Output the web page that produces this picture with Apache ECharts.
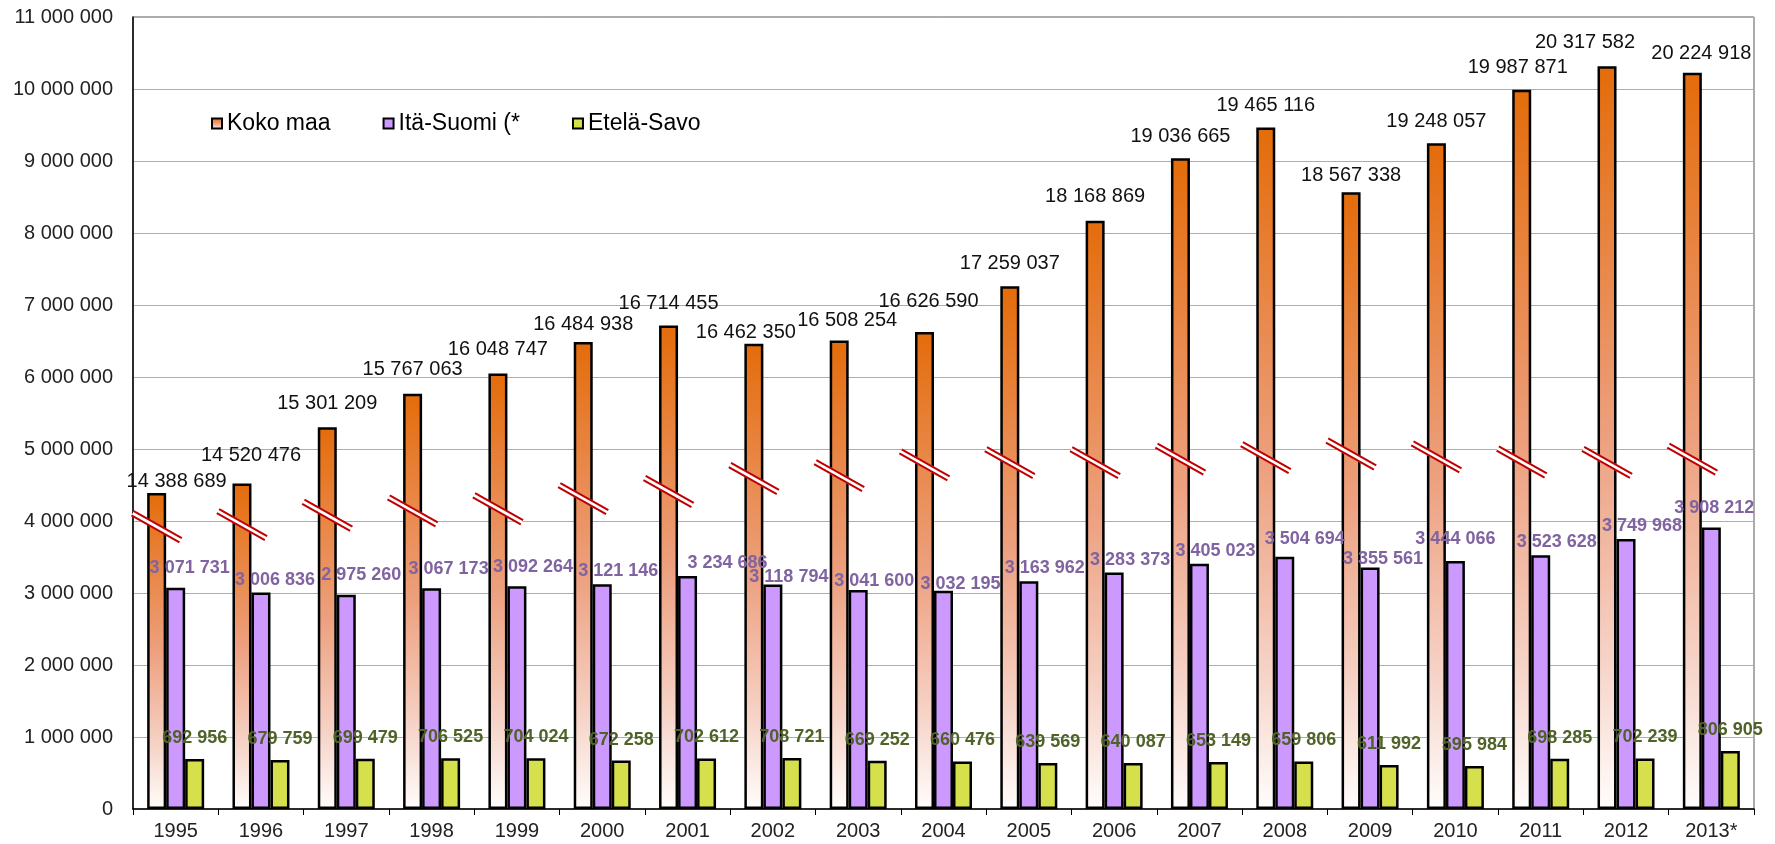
<!DOCTYPE html>
<html><head><meta charset="utf-8">
<script src="https://cdn.jsdelivr.net/npm/echarts@6/dist/echarts.min.js"></script>
<style>html,body{margin:0;padding:0;background:#fff}#c{width:1775px;height:844px}</style>
</head><body><div id="c"></div>
<script>
// ---- data ----
const categories = ['1995','1996','1997','1998','1999','2000','2001','2002','2003','2004','2005','2006','2007','2008','2009','2010','2011','2012','2013*'];
const kokoMaa = [14388689,14520476,15301209,15767063,16048747,16484938,16714455,16462350,16508254,16626590,17259037,18168869,19036665,19465116,18567338,19248057,19987871,20317582,20224918];
const itaSuomi = [3071731,3006836,2975260,3067173,3092264,3121146,3234686,3118794,3041600,3032195,3163962,3283373,3405023,3504694,3355561,3444066,3523628,3749968,3908212];
const etelaSavo = [692956,679759,699479,706525,704024,672258,702612,708721,669252,660476,639569,640087,653149,659806,611992,595984,698285,702239,806905];
const seriesNames = ['Koko maa','Itä-Suomi (*','Etelä-Savo'];
// Koko maa is drawn on a broken axis: the axis break removes this amount
const axisBreak = 10000000;
// axis value (broken scale) where each break mark sits on the Koko maa bar
const breakMarks = [3920000,3950000,4080000,4140000,4170000,4310000,4410000,4590000,4630000,4780000,4810000,4810000,4860000,4880000,4930000,4890000,4820000,4815000,4860000];
const yMin = 0, yMax = 11000000, yInterval = 1000000;

// ---- label nudges (style, px) ----
const kokoNudge = {0:[20,10],1:[9,-6],2:[0,-2],3:[0,-2],4:[0,-2],5:[0,4],7:[-8,11],8:[8,2],9:[4,-8],10:[0,-1],11:[0,-2],14:[0,5],16:[-4,0],17:[-22,-2],18:[9,3]};
const itaNudge = {0:[-2,-7],1:[-2,1],2:[-1,-7],3:[1,-6],4:[0,-6],6:[24,0],7:[0,6],8:[0,4],9:[1,6],12:[0,0],13:[4,-5],14:[-3,5],15:[-16,-9],18:[-13,-7]};

function fmt(v){ return String(Math.round(v)).replace(/\B(?=(\d{3})+(?!\d))/g,' '); }

const chart = echarts.init(document.getElementById('c'));
const barBorder = {borderColor:'#000', borderWidth:2.5};
const orangeGrad = new echarts.graphic.LinearGradient(0,0,0,1,[
  {offset:0,color:'#E46C0A'},
  {offset:0.5,color:'#EDA07F'},
  {offset:0.8,color:'#F6D3C7'},
  {offset:1,color:'#FFFDFC'}
]);

chart.setOption({
  animation:false,
  backgroundColor:'#fff',
  textStyle:{fontFamily:'Liberation Sans, Arial, sans-serif'},
  grid:{left:133,right:21,top:17,bottom:35,show:true,borderColor:'#595959',borderWidth:1,backgroundColor:'transparent'},
  legend:{
    data:seriesNames, left:206, top:107, itemWidth:10, itemHeight:10, itemGap:52,
    icon:'rect',
    textStyle:{fontSize:23,color:'#000',fontFamily:'Liberation Sans, Arial, sans-serif'}
  },
  xAxis:{
    type:'category', data:categories,
    axisLine:{lineStyle:{color:'#000',width:1.5}},
    axisTick:{show:true,length:6,lineStyle:{color:'#000'}},
    axisLabel:{fontSize:20,color:'#222',margin:12,interval:0}
  },
  yAxis:{
    type:'value', min:yMin, max:yMax, interval:yInterval,
    axisLine:{show:true,lineStyle:{color:'#000',width:1.5}},
    axisTick:{show:false},
    splitLine:{lineStyle:{color:'#ADADAD',width:1.2}},
    axisLabel:{fontSize:20,color:'#222',margin:20,formatter:v=>fmt(v)}
  },
  series:[
    {
      name:seriesNames[0], type:'bar', barWidth:19, barGap:'0%',
      itemStyle:Object.assign({color:orangeGrad},barBorder),
      data:kokoMaa.map((v,i)=>({value:v-axisBreak,label:{offset:kokoNudge[i]||[0,0]}})),
      label:{show:true,position:'top',distance:12,fontSize:20,color:'#111',
        formatter:p=>fmt(kokoMaa[p.dataIndex])}
    },
    {
      name:seriesNames[1], type:'bar', barWidth:19, barGap:'0%',
      itemStyle:Object.assign({color:'#CC99FF'},barBorder),
      data:itaSuomi.map((v,i)=>{const n=itaNudge[i]||[0,0];return {value:v,label:{offset:[16+n[0],n[1]]}};}),
      label:{show:true,position:'top',distance:4,fontSize:18,fontWeight:'bold',color:'#8064A2',
        formatter:p=>fmt(p.value)}
    },
    {
      name:seriesNames[2], type:'bar', barWidth:19, barGap:'0%',
      itemStyle:Object.assign({color:'#D6E04D'},barBorder),
      data:etelaSavo,
      label:{show:true,position:'top',distance:12,fontSize:18,fontWeight:'bold',color:'#4F6228',
        formatter:p=>fmt(p.value)}
    },
    {
      name:'break', type:'custom', clip:false, z:5, silent:true,
      encode:{x:0,y:1},
      data:breakMarks.map((v,i)=>[i,v]),
      renderItem:function(params,api){
        const p = api.coord([api.value(0),api.value(1)]);
        const cx = p[0]-19, cy = p[1];
        const hx = 24, hy = 13.5, nx = -1.15, ny = 2.05;
        return {type:'group',children:[
          {type:'line',shape:{x1:cx-hx,y1:cy-hy,x2:cx+hx,y2:cy+hy},style:{stroke:'#fff',lineWidth:6}},
          {type:'line',shape:{x1:cx-hx+nx,y1:cy-hy+ny,x2:cx+hx+nx,y2:cy+hy+ny},style:{stroke:'#C00000',lineWidth:2}},
          {type:'line',shape:{x1:cx-hx-nx,y1:cy-hy-ny,x2:cx+hx-nx,y2:cy+hy-ny},style:{stroke:'#C00000',lineWidth:2}}
        ]};
      }
    }
  ]
});
</script></body></html>
